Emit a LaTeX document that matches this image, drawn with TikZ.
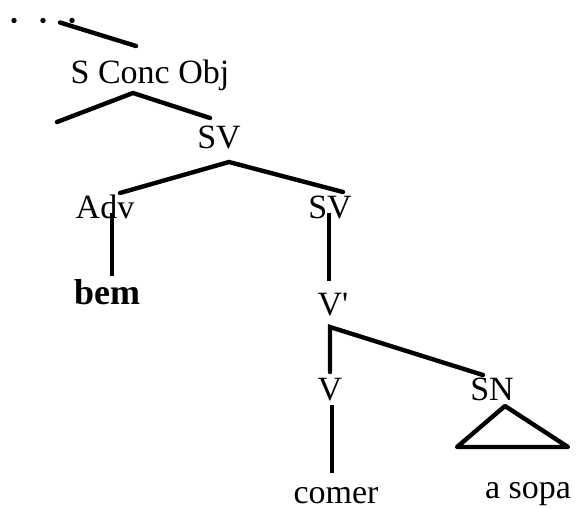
\documentclass[tikz,border=0pt]{standalone}
\usepackage{fontspec}
\setmainfont{Liberation Serif}
\usepackage{tikz}
\usetikzlibrary{calc}

\begin{document}
\begin{tikzpicture}[x=1pt,y=-1pt,
    cat/.style={anchor=base,inner sep=0pt,font=\fontsize{34}{40}\selectfont},
    word/.style={cat},
    branch/.style={line width=4.4pt,line cap=round},
    stem/.style={line width=3.4pt}]
    \useasboundingbox (0,0) rectangle (576,509);
    \foreach \xpos in {14,43,72} {
       \fill (\xpos,20.5) circle (2.7);
     }
    \coordinate (dots) at (60,22.5);
    \node[cat] (sconc) at (150,83) {S Conc Obj};
    \node[cat] (sv1) at (219,148) {SV};
    \node[cat] (adv) at (105,218) {Adv};
    \node[cat] (sv2) at (330,218) {SV};
    \node[word,font=\fontsize{36}{40}\selectfont\bfseries] (bem) at (107,304) {bem};
    \node[cat] (vbar) at (333,315) {V\textquotesingle};
    \node[cat] (v) at (330,400) {V};
    \node[cat] (sn) at (492,400) {SN};
    \node[word] (comer) at (336,503) {comer};
    \node[word] (sopa) at (528,498) {a sopa};
    \coordinate (top) at (136,46);
    \coordinate (sconc-b) at (133,93);
    \coordinate (sconc-l) at (57,122);
    \coordinate (sv1-t) at (210,118);
    \coordinate (sv1-b) at (229,162);
    \coordinate (adv-t) at (120,193);
    \coordinate (sv2-t) at (343,192);
    \coordinate (adv-b) at (112,213);
    \coordinate (bem-t) at (112,276);
    \coordinate (sv2-b) at (329,213);
    \coordinate (vbar-t) at (329,281);
    \coordinate (vbar-b) at (330,327);
    \coordinate (v-t) at (330,372);
    \coordinate (sn-t) at (483,375);
    \coordinate (v-b) at (332,405);
    \coordinate (comer-t) at (332,473);
    \coordinate (sn-b) at (505,406);
    \draw[branch] (dots) -- (top);
    \draw[branch] (sconc-l) -- (sconc-b) -- (sv1-t);
    \draw[branch] (adv-t) -- (sv1-b) -- (sv2-t);
    \draw[stem] (adv-b) -- (bem-t);
    \draw[stem] (sv2-b) -- (vbar-t);
    \draw[branch] (v-t) -- (vbar-b) -- (sn-t);
    \draw[stem] (v-b) -- (comer-t);
    \draw[branch,line join=round] (sn-b) -- (568,447) -- (457,447) -- cycle;
\end{tikzpicture}
\end{document}
